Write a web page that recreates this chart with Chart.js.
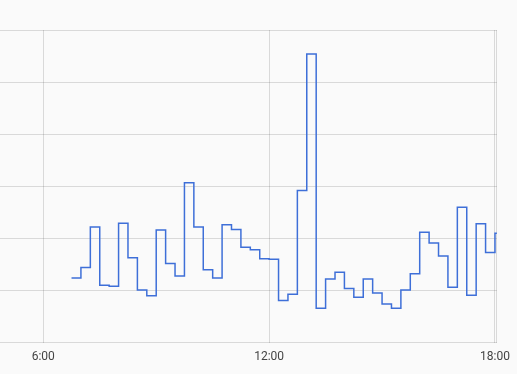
<!DOCTYPE html>
<html>
<head>
<meta charset="utf-8">
<script src="https://cdn.jsdelivr.net/npm/chart.js@4.4.1/dist/chart.umd.min.js"></script>
<style>
  html, body { margin: 0; padding: 0; background: #fafafa; }
</style>
</head>
<body>
<canvas id="chart" width="517" height="374"></canvas>
<script>
// 15-minute samples, each value holds until the next sample (step-before)
const times = [
  '6:45', '7:00', '7:15', '7:30', '7:45', '8:00', '8:15', '8:30', '8:45', '9:00',
  '9:15', '9:30', '9:45', '10:00', '10:15', '10:30', '10:45', '11:00', '11:15', '11:30',
  '11:45', '12:00', '12:15', '12:30', '12:45', '13:00', '13:15', '13:30', '13:45', '14:00',
  '14:15', '14:30', '14:45', '15:00', '15:15', '15:30', '15:45', '16:00', '16:15', '16:30',
  '16:45', '17:00', '17:15', '17:30', '17:45', '18:00', '18:15',
];
const values = [
  1.24, 1.44, 2.22, 1.10, 1.08, 2.29, 1.63, 1.01, 0.90, 2.16,
  1.52, 1.28, 3.07, 2.22, 1.40, 1.24, 2.26, 2.17, 1.83, 1.78,
  1.61, 1.60, 0.81, 0.93, 2.92, 5.54, 0.66, 1.22, 1.35, 1.04,
  0.87, 1.22, 0.95, 0.74, 0.66, 1.01, 1.32, 2.12, 1.91, 1.66,
  1.06, 2.60, 0.91, 2.28, 1.73, 2.10, 2.10,
];
const xTicks = ['6:00', '12:00', '18:00'];
const xRange = ['4:51', '18:03'];
const yRange = [0, 6];

const toHours = t => {
  const [h, m] = t.split(':').map(Number);
  return h + m / 60;
};
const fmtHour = v => {
  const h = Math.floor(v);
  const m = Math.round((v - h) * 60);
  return h + ':' + String(m).padStart(2, '0');
};

const gridColor = 'rgba(0, 0, 0, 0.13)';
const lineColor = '#3e6fd8';

new Chart(document.getElementById('chart'), {
  type: 'line',
  data: {
    datasets: [{
      data: times.map((t, i) => ({ x: toHours(t), y: values[i] })),
      borderColor: lineColor,
      borderWidth: 1.5,
      stepped: 'before',
      pointRadius: 0,
      fill: false,
    }],
  },
  options: {
    responsive: false,
    animation: false,
    layout: { padding: { top: 30, right: 12, bottom: 3, left: 0 } },
    plugins: { legend: { display: false }, tooltip: { enabled: false } },
    scales: {
      x: {
        type: 'linear',
        min: toHours(xRange[0]),
        max: toHours(xRange[1]),
        afterBuildTicks: axis => { axis.ticks = xTicks.map(t => ({ value: toHours(t) })); },
        grid: { color: gridColor, drawTicks: false },
        border: { display: false },
        ticks: {
          padding: 7,
          maxRotation: 0,
          color: '#444',
          font: { family: 'Roboto', size: 12 },
          callback: v => fmtHour(v),
        },
      },
      y: {
        min: yRange[0],
        max: yRange[1],
        ticks: { display: false, stepSize: 1 },
        grid: { color: gridColor, drawTicks: false },
        border: { display: false },
      },
      yRight: {
        position: 'right',
        min: yRange[0],
        max: yRange[1],
        ticks: { display: false },
        grid: { display: false },
        border: { display: true, color: gridColor },
      },
    },
  },
});
</script>
</body>
</html>
